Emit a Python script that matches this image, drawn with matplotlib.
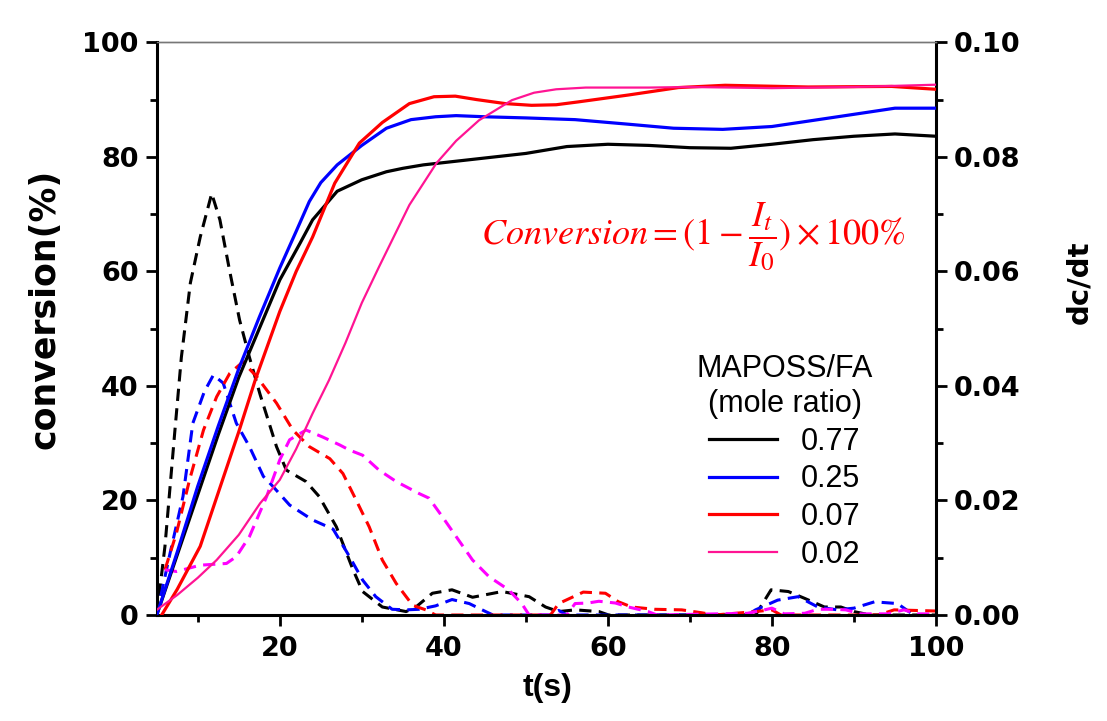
import matplotlib
matplotlib.use("Agg")
import matplotlib.pyplot as plt
from matplotlib.ticker import MultipleLocator

plt.rcParams['font.family'] = ['Liberation Sans', 'DejaVu Sans']
plt.rcParams['mathtext.fontset'] = 'stix'

# ---- data: conversion (%) vs t (s) ----
t_black = [5, 7.5, 10, 12.5, 15, 17.5, 20, 22.5, 24, 27, 30, 33, 35, 37.5, 40, 45, 50, 55, 60, 65, 70, 75, 80, 85, 90, 95, 100]
c_black = [0, 10.5, 21, 31.5, 41.5, 50, 58.5, 65, 69, 74, 76, 77.4, 78, 78.6, 79, 79.8, 80.6, 81.8, 82.2, 82, 81.6, 81.5, 82.2, 83, 83.6, 84, 83.6]

t_blue = [5, 7.5, 10, 12.5, 15, 17.5, 20, 22, 23.6, 25, 27, 30, 33, 36, 39, 41.5, 45, 50, 56, 62.5, 68, 74, 80, 88, 95, 100]
c_blue = [0, 11, 22.5, 33, 43, 52, 60.6, 67, 72.2, 75.5, 78.6, 82, 85, 86.5, 87, 87.2, 87, 86.8, 86.5, 85.7, 85, 84.8, 85.3, 87, 88.5, 88.5]

t_red = [5.6, 7.5, 10.3, 13, 15, 17, 20, 22, 24, 26.7, 29.7, 32.5, 35.8, 38.8, 41.4, 44, 47.5, 50.7, 53.7, 56.4, 62.5, 68.6, 74.3, 84.4, 94.6, 100]
c_red = [0, 4.5, 12, 23.5, 32, 41, 53, 60, 66, 75.4, 82.4, 86, 89.3, 90.5, 90.6, 90, 89.3, 89, 89.1, 89.6, 90.8, 92.1, 92.5, 92.2, 92.3, 91.8]

t_pink = [5, 7.5, 10, 12.3, 15, 17.6, 20, 22, 24, 26, 28, 30, 32.1, 35.8, 39.1, 41.5, 44.3, 48.3, 51, 53.7, 57.3, 65, 70, 80, 90, 100]
c_pink = [0.9, 3.5, 6.5, 9.6, 14, 19.5, 23.6, 29, 35.2, 41, 47.5, 54.5, 60.8, 71.6, 78.9, 82.8, 86.4, 89.9, 91.2, 91.8, 92.1, 92.1, 92.2, 92.0, 92.2, 92.6]

# ---- data: dc/dt vs t (s) ----
td_black = [5, 6, 7.2, 8, 9.1, 10.3, 11.7, 12.7, 13.9, 15.1, 16.3, 17.6, 19.6, 20.8, 23.2, 24.8, 26.9, 28.9, 30.1, 32.5, 35.4, 36.6, 38.6, 41, 43.5, 47.1, 50.4, 52.4, 54, 56, 58.9, 60.1, 78, 79.9, 82, 84, 86.4, 88.4, 90, 92, 100]
d_black = [0, 0.012, 0.032, 0.045, 0.058, 0.066, 0.0736, 0.069, 0.060, 0.0515, 0.045, 0.0385, 0.0294, 0.0253, 0.0233, 0.0207, 0.0154, 0.008, 0.0041, 0.0014, 0.0006, 0.0014, 0.0038, 0.0044, 0.0031, 0.0041, 0.0032, 0.0014, 0.0006, 0.0009, 0.0006, 0, 0, 0.0044, 0.0041, 0.0029, 0.0014, 0.0014, 0.0006, 0, 0]

td_blue = [5, 6.5, 8.2, 9.4, 10.8, 11.9, 13.1, 14.7, 16.3, 18, 19.2, 21.2, 24, 26.5, 28.5, 30.1, 31.7, 33.7, 35.4, 37, 39, 41, 43.1, 45.1, 46, 53, 54, 55, 77, 78, 80.7, 83.2, 85.6, 88, 90, 92.5, 95.3, 97.3, 100]
d_blue = [0, 0.010, 0.0207, 0.0335, 0.039, 0.0419, 0.0405, 0.0335, 0.0294, 0.0242, 0.0224, 0.0192, 0.0166, 0.015, 0.0102, 0.0061, 0.0032, 0.001, 0.0009, 0.001, 0.0016, 0.0027, 0.002, 0.0006, 0, 0, 0.0008, 0, 0, 0.0009, 0.0026, 0.0032, 0.0014, 0.0009, 0.0012, 0.0023, 0.002, 0, 0]

td_red = [6, 7.4, 9, 10.7, 12.3, 13.9, 15.5, 17.2, 18.4, 19.6, 21.6, 23.6, 26.1, 27.7, 29.3, 30.9, 32.5, 34.2, 36.2, 37.8, 39, 53, 54, 57, 59.7, 61.3, 62.9, 65.7, 69, 71.4, 73, 78, 80, 81.1, 93, 94.9, 100]
d_red = [0.0079, 0.0143, 0.0236, 0.0323, 0.0381, 0.0422, 0.0442, 0.0416, 0.0393, 0.037, 0.0323, 0.0294, 0.0273, 0.0247, 0.0201, 0.0154, 0.0096, 0.0055, 0.0017, 0.0009, 0, 0, 0.002, 0.004, 0.0038, 0.0023, 0.0014, 0.001, 0.0009, 0.0004, 0, 0.0006, 0.0009, 0, 0, 0.0009, 0.0007]

td_pink = [6, 7.4, 10.3, 13.5, 14.7, 16.3, 18.4, 20, 21.2, 23.2, 25.2, 27.3, 28.5, 30.1, 32.1, 34.2, 37, 38.2, 39.8, 41.5, 43.5, 45.5, 47.9, 49.5, 50.4, 55, 56, 57.6, 58.9, 60.9, 62.5, 64.9, 66, 77, 79.1, 80, 81.5, 84, 85.6, 87.6, 89, 90.8, 94.1, 96.1, 97.7, 100]
d_pink = [0.0079, 0.0076, 0.0087, 0.009, 0.0102, 0.0137, 0.0207, 0.0271, 0.0306, 0.0323, 0.0311, 0.0297, 0.0288, 0.0279, 0.0253, 0.0233, 0.0212, 0.0204, 0.0172, 0.0137, 0.0096, 0.0067, 0.0044, 0.002, 0, 0, 0.002, 0.0021, 0.0024, 0.0021, 0.0014, 0.0006, 0, 0.0003, 0.0009, 0.0012, 0.0002, 0.0003, 0.001, 0.001, 0.0009, 0.0002, 0.0002, 0.0009, 0.0002, 0.0002]

labels = ['0.77', '0.25', '0.07', '0.02']

W, H = 1107, 721
fig = plt.figure(figsize=(W / 100, H / 100), dpi=100)
ax = fig.add_axes([0.1416, 0.147, 0.7039, 0.7943])
ax2 = ax.twinx()

solid_col = ['#000000', '#0000FF', '#FF0000', '#FF1493']
dash_col = ['#000000', '#0000FF', '#FF0000', '#FF00FF']
solid_lw = [2.3, 2.3, 2.3, 1.6]

solid_data = [(t_black, c_black), (t_blue, c_blue), (t_red, c_red), (t_pink, c_pink)]
dash_data = [(td_black, d_black), (td_blue, d_blue), (td_red, d_red), (td_pink, d_pink)]

for (tt, dd), col in zip(dash_data, dash_col):
    ax2.plot(tt, dd, color=col, lw=2.2, dashes=(4, 2.4), zorder=2)

handles = []
for (tt, cc), col, lw, lab in zip(solid_data, solid_col, solid_lw, labels):
    h, = ax.plot(tt, cc, color=col, lw=lw, label=lab, zorder=3)
    handles.append(h)

ax.set_zorder(ax2.get_zorder() + 1)
ax.patch.set_visible(False)

ax.set_xlim(5, 100)
ax.set_ylim(0, 100)
ax2.set_ylim(0, 0.10)

ax.xaxis.set_major_locator(MultipleLocator(20))
ax.xaxis.set_minor_locator(MultipleLocator(10))
ax.yaxis.set_major_locator(MultipleLocator(20))
ax.yaxis.set_minor_locator(MultipleLocator(10))
ax2.yaxis.set_major_locator(MultipleLocator(0.02))
ax2.yaxis.set_minor_locator(MultipleLocator(0.01))
ax2.yaxis.set_major_formatter(plt.FuncFormatter(lambda v, p: f"{v:.2f}"))

for a in (ax, ax2):
    for s in a.spines.values():
        s.set_linewidth(2.2)
    a.spines['top'].set_linewidth(1.0)
    a.spines['top'].set_color('#777777')
ax.spines['right'].set_visible(False)
ax2.spines['left'].set_visible(False)
ax2.spines['bottom'].set_visible(False)

tick_font = dict(family='DejaVu Sans', weight='bold', size=19.5)
ax.tick_params(axis='both', which='major', direction='out', length=8, width=2, pad=5)
ax.tick_params(axis='both', which='minor', direction='out', length=5, width=2)
ax.tick_params(axis='x', which='both', top=False)
ax.tick_params(axis='x', which='major', pad=7)
ax2.tick_params(axis='y', which='major', direction='out', length=8, width=2, pad=5)
ax2.tick_params(axis='y', which='minor', direction='out', length=5, width=2)
for lab in ax.get_xticklabels() + ax.get_yticklabels() + ax2.get_yticklabels():
    lab.set_fontproperties(tick_font)

# axis titles
fig.text(548 / W, 1 - 688 / H, 't(s)', family='Liberation Sans', weight='bold', size=23,
         ha='center', va='center')
fig.text(45 / W, 1 - 309 / H, 'conversion(%)', family='DejaVu Sans', weight='bold', size=25,
         rotation=90, ha='center', va='center')
fig.text(1079 / W, 1 - 282 / H, 'dc/dt', family='DejaVu Sans', weight='bold', size=21,
         rotation=90, ha='center', va='center')

fig.text(0.626, 0.672, r'$Conversion=(1-\dfrac{I_t}{I_0})\times100\%$',
         color='#FF0000', fontsize=26, ha='center', va='center')

leg = ax.legend(handles=handles, labels=labels, title='MAPOSS/FA\n(mole ratio)', frameon=False,
                fontsize=22, title_fontsize=22, handlelength=2.2, handletextpad=0.8,
                labelspacing=0.25, loc='center', borderpad=0,
                bbox_to_anchor=(785 / W, 1 - 462 / H), bbox_transform=fig.transFigure)
leg._legend_box.align = 'center'
leg.get_title().set_multialignment('center')
leg.get_title().set_linespacing(1.2)

fig.savefig('out.png', dpi=100)
